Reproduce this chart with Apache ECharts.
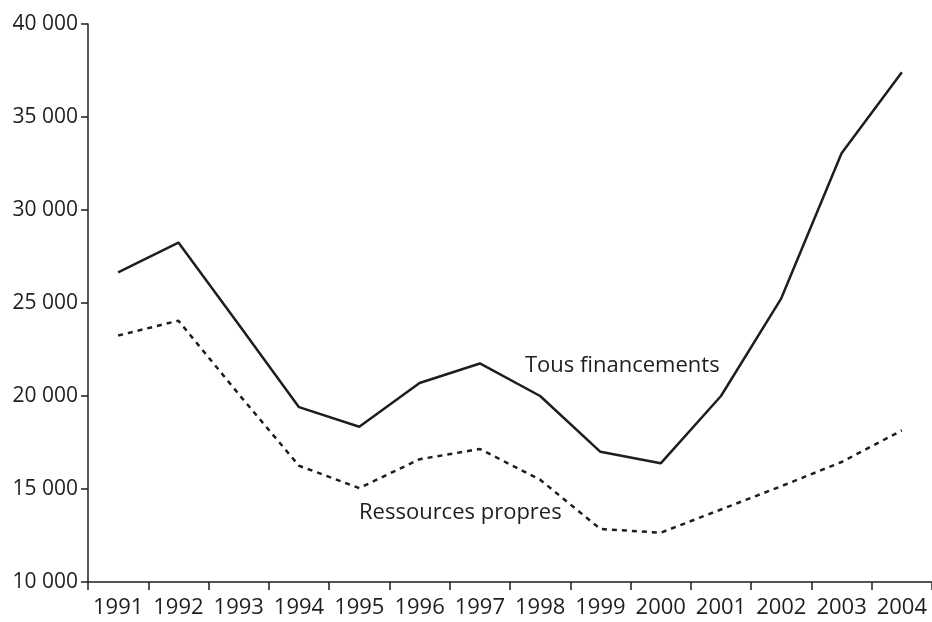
<!DOCTYPE html>
<html>
<head>
<meta charset="utf-8">
<script src="https://cdn.jsdelivr.net/npm/echarts@6/dist/echarts.min.js"></script>
<style>
  html, body { margin: 0; padding: 0; background: #fff; }
  #chart { width: 932px; height: 622px; }
</style>
</head>
<body>
<div id="chart"></div>
<script>
// années
const years = ["1991", "1992", "1993", "1994", "1995", "1996", "1997",
  "1998", "1999", "2000", "2001", "2002", "2003", "2004"];
// Tous financements
const tousFinancements = [26650, 28250, 23850, 19400, 18350, 20700, 21750,
  20000, 17000, 16380, 20000, 25250, 33050, 37400];
// Ressources propres
const ressourcesPropres = [23250, 24050, 20100, 16250, 15050, 16600, 17150,
  15500, 12850, 12650, 13900, 15150, 16450, 18150];

const yMin = 10000, yMax = 40000, yStep = 5000;

const ink = "#1e1e1e";
const font = "'Open Sans', 'Noto Sans', sans-serif";

let chart = echarts.init(document.getElementById("chart"));

let option = {
  animation: false,
  grid: { left: 88, right: 0, top: 24, bottom: 40 },
  xAxis: {
    type: "category",
    data: years,
    boundaryGap: true,
    axisLine: { lineStyle: { color: ink, width: 1.5 } },
    axisTick: { show: true, interval: 0, length: 8, lineStyle: { color: ink, width: 1.5 } },
    axisLabel: { interval: 0, margin: 15, color: ink, fontSize: 22, fontFamily: font }
  },
  yAxis: {
    type: "value",
    min: yMin,
    max: yMax,
    interval: yStep,
    splitLine: { show: false },
    axisLine: { show: true, lineStyle: { color: ink, width: 1.5 } },
    axisTick: { show: true, length: 7, lineStyle: { color: ink, width: 1.5 } },
    axisLabel: {
      margin: 10,
      color: ink,
      fontSize: 21,
      fontFamily: font,
      formatter: (v) => String(v).replace(/\B(?=(\d{3})+(?!\d))/g, " ")
    }
  },
  series: [
    {
      name: "Tous financements",
      type: "line",
      data: tousFinancements,
      symbol: "none",
      lineStyle: { color: ink, width: 2.5 }
    },
    {
      name: "Ressources propres",
      type: "line",
      data: ressourcesPropres,
      symbol: "none",
      lineStyle: { color: ink, width: 2.5, type: [5, 5] }
    }
  ],
  graphic: [
    {
      type: "text",
      left: 525,
      top: 355,
      style: { text: "Tous financements", fill: ink, font: "22px " + font }
    },
    {
      type: "text",
      left: 359,
      top: 502,
      style: { text: "Ressources propres", fill: ink, font: "22px " + font }
    }
  ]
};

chart.setOption(option);
</script>
</body>
</html>
